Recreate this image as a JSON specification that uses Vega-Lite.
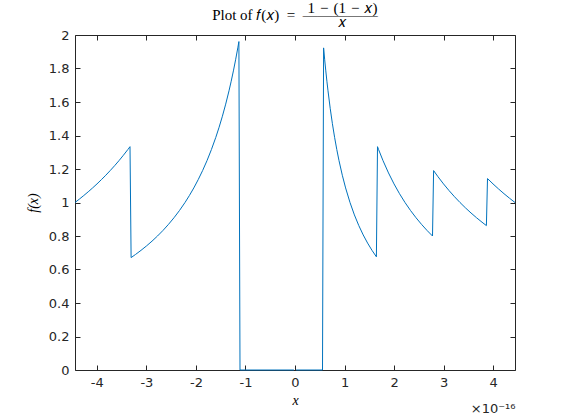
{
  "$schema": "https://vega.github.io/schema/vega-lite/v6.json",
  "autosize": "none",
  "width": 440,
  "height": 335,
  "padding": {"left": 75, "top": 35, "right": 55, "bottom": 46},
  "background": "white",
  "title": {
    "text": ["\u200b\u2003\u2003\u2003\u2003\u2003\u2003\u20041\u2004\u2212\u2004(1\u2004\u2212\u2004\ud835\udc65)", "Plot of \ud835\udc53(\ud835\udc65)\u2002=\u2002\u2014\u2014\u2014\u2014\u2014", "\u200b\u2003\u2003\u2003\u2003\u2003\u2003\u2005\ud835\udc65"],
    "font": "Liberation Serif",
    "fontSize": 15,
    "fontWeight": "normal",
    "color": "#000000",
    "lineHeight": 7,
    "offset": -1,
    "anchor": "middle"
  },
  "data": {"values": [
    {"x": -4.44089, "y": 1.0}, {"x": -4.35207, "y": 1.0204}, {"x": -4.26326, "y": 1.0417}, {"x": -4.17444, "y": 1.0638},
    {"x": -4.08562, "y": 1.0870}, {"x": -3.99680, "y": 1.1111}, {"x": -3.90798, "y": 1.1364}, {"x": -3.81917, "y": 1.1628},
    {"x": -3.73035, "y": 1.1905}, {"x": -3.64153, "y": 1.2195}, {"x": -3.55271, "y": 1.25}, {"x": -3.46390, "y": 1.2821},
    {"x": -3.37508, "y": 1.3158}, {"x": -3.33067, "y": 1.3333}, {"x": -3.30846, "y": 0.6711}, {"x": -3.21965, "y": 0.6897},
    {"x": -3.10862, "y": 0.7143}, {"x": -2.99760, "y": 0.7407}, {"x": -2.88658, "y": 0.7692}, {"x": -2.77556, "y": 0.8},
    {"x": -2.66454, "y": 0.8333}, {"x": -2.55351, "y": 0.8696}, {"x": -2.44249, "y": 0.9091}, {"x": -2.33147, "y": 0.9524},
    {"x": -2.22045, "y": 1.0}, {"x": -2.13163, "y": 1.0417}, {"x": -2.04281, "y": 1.0870}, {"x": -1.95399, "y": 1.1364},
    {"x": -1.86517, "y": 1.1905}, {"x": -1.77636, "y": 1.25}, {"x": -1.68754, "y": 1.3158}, {"x": -1.59872, "y": 1.3889},
    {"x": -1.53211, "y": 1.4493}, {"x": -1.46549, "y": 1.5152}, {"x": -1.39888, "y": 1.5873}, {"x": -1.33227, "y": 1.6667},
    {"x": -1.28786, "y": 1.7241}, {"x": -1.24345, "y": 1.7857}, {"x": -1.19904, "y": 1.8519}, {"x": -1.15463, "y": 1.9231},
    {"x": -1.13243, "y": 1.9608}, {"x": -1.11022, "y": 0}, {"x": -0.02220, "y": 0}, {"x": 0, "y": null},
    {"x": 0.02220, "y": 0}, {"x": 0.55511, "y": 0}, {"x": 0.57732, "y": 1.9231}, {"x": 0.59952, "y": 1.8519},
    {"x": 0.62172, "y": 1.7857}, {"x": 0.64393, "y": 1.7241}, {"x": 0.66613, "y": 1.6667}, {"x": 0.71054, "y": 1.5625},
    {"x": 0.75495, "y": 1.4706}, {"x": 0.79936, "y": 1.3889}, {"x": 0.84377, "y": 1.3158}, {"x": 0.88818, "y": 1.25},
    {"x": 0.95479, "y": 1.1628}, {"x": 1.02141, "y": 1.0870}, {"x": 1.11022, "y": 1.0}, {"x": 1.19904, "y": 0.9259},
    {"x": 1.28786, "y": 0.8621}, {"x": 1.37668, "y": 0.8065}, {"x": 1.46549, "y": 0.7576}, {"x": 1.55431, "y": 0.7143},
    {"x": 1.64313, "y": 0.6757}, {"x": 1.66533, "y": 1.3333}, {"x": 1.68754, "y": 1.3158}, {"x": 1.77636, "y": 1.25},
    {"x": 1.88738, "y": 1.1765}, {"x": 1.99840, "y": 1.1111}, {"x": 2.10942, "y": 1.0526}, {"x": 2.22045, "y": 1.0},
    {"x": 2.33147, "y": 0.9524}, {"x": 2.44249, "y": 0.9091}, {"x": 2.55351, "y": 0.8696}, {"x": 2.66454, "y": 0.8333},
    {"x": 2.77556, "y": 0.8}, {"x": 2.79776, "y": 1.1905}, {"x": 2.88658, "y": 1.1538}, {"x": 2.99760, "y": 1.1111},
    {"x": 3.10862, "y": 1.0714}, {"x": 3.21965, "y": 1.0345}, {"x": 3.33067, "y": 1.0}, {"x": 3.44169, "y": 0.9677},
    {"x": 3.55271, "y": 0.9375}, {"x": 3.66374, "y": 0.9091}, {"x": 3.77476, "y": 0.8824}, {"x": 3.86358, "y": 0.8621},
    {"x": 3.88578, "y": 1.1429}, {"x": 3.99680, "y": 1.1111}, {"x": 4.10783, "y": 1.0811}, {"x": 4.21885, "y": 1.0526},
    {"x": 4.32987, "y": 1.0256}, {"x": 4.44089, "y": 1.0}
  ]},
  "layer": [
    {
      "mark": {"type": "line", "color": "#0072BD", "strokeWidth": 1, "invalid": "break-paths-show-domains"},
      "encoding": {
        "x": {"field": "x", "type": "quantitative",
          "scale": {"domain": [-4.44089, 4.44089], "nice": false, "zero": false},
          "axis": {"orient": "bottom", "values": [-4, -3, -2, -1, 0, 1, 2, 3, 4], "labelExpr": "'' + datum.value",
            "title": "x", "titleFont": "Liberation Serif", "titleFontStyle": "italic", "titleFontSize": 14, "titleFontWeight": "normal", "titleColor": "#000000", "titlePadding": 4}},
        "y": {"field": "y", "type": "quantitative",
          "scale": {"domain": [0, 2], "nice": false, "zero": false},
          "axis": {"orient": "left", "values": [0, 0.2, 0.4, 0.6, 0.8, 1, 1.2, 1.4, 1.6, 1.8, 2], "labelExpr": "'' + datum.value",
            "title": "f(x)", "titleFont": "Liberation Serif", "titleFontStyle": "italic", "titleFontSize": 14, "titleFontWeight": "normal", "titleColor": "#000000", "titlePadding": 8}}
      }
    },
    {
      "mark": {"type": "line", "opacity": 0, "invalid": "break-paths-show-domains"},
      "encoding": {
        "x": {"field": "x", "type": "quantitative",
          "axis": {"orient": "top", "values": [-4, -3, -2, -1, 0, 1, 2, 3, 4], "labels": false, "title": null}},
        "y": {"field": "y", "type": "quantitative",
          "axis": {"orient": "right", "values": [0, 0.2, 0.4, 0.6, 0.8, 1, 1.2, 1.4, 1.6, 1.8, 2], "labels": false, "title": null}}
      }
    },
    {
      "mark": {"type": "line", "opacity": 0, "invalid": "break-paths-show-domains"},
      "encoding": {
        "x": {"field": "x", "type": "quantitative",
          "axis": {"orient": "bottom", "domain": false, "ticks": false, "labels": false, "title": "\u00d710\u207b\u00b9\u2076",
            "titleAnchor": "end", "titleAlign": "right", "titleFont": "DejaVu Sans", "titleFontSize": 13, "titleFontWeight": "normal", "titleColor": "#262626", "titlePadding": 32}},
        "y": {"field": "y", "type": "quantitative", "axis": null}
      }
    }
  ],
  "resolve": {"axis": {"x": "independent", "y": "independent"}},
  "config": {
    "view": {"stroke": null},
    "axis": {
      "grid": false,
      "domainColor": "#262626",
      "domainWidth": 1,
      "tickColor": "#262626",
      "tickSize": -5,
      "tickWidth": 1,
      "labelFont": "DejaVu Sans",
      "labelFontSize": 13,
      "labelColor": "#262626",
      "labelPadding": 11,
      "labelFlush": false,
      "labelOverlap": false
    }
  }
}
